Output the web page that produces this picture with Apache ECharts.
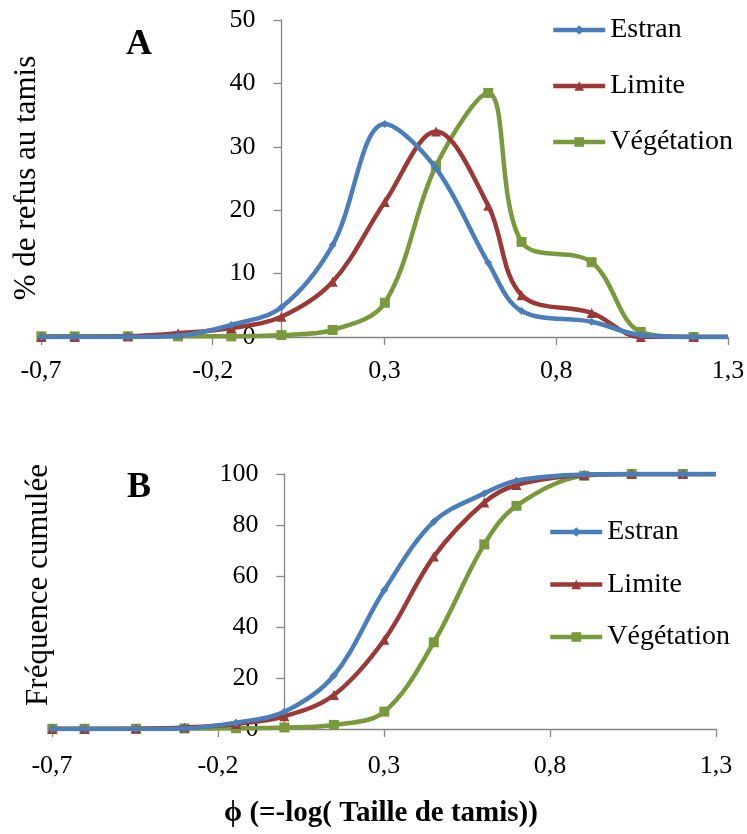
<!DOCTYPE html>
<html>
<head>
<meta charset="utf-8">
<script src="https://cdn.jsdelivr.net/npm/echarts@6/dist/echarts.min.js"></script>
<style>
html,body{margin:0;padding:0;background:#fff;}
#chart{width:747px;height:834px;}
</style>
</head>
<body>
<div id="chart"></div>
<script>
// phi = -log10(sieve size)
const phi = [-0.699, -0.602, -0.447, -0.301, -0.146, 0, 0.149, 0.301, 0.45, 0.602, 0.699, 0.903, 1.046, 1.2, 1.3];
const seriesNames = ['Estran', 'Limite', 'Végétation'];
// Panel A : % de refus au tamis
const refusEstran     = [0, 0, 0, 0.2, 1.9, 4.7, 14.5, 33.6, 26.6, 11.7, 4.1, 2.4, 0.3, 0, 0];
const refusLimite     = [0, 0, 0.1, 0.6, 1.4, 3.2, 8.7, 21.3, 32.4, 20.7, 6.6, 3.8, 0, 0, 0];
const refusVegetation = [0.1, 0.1, 0.1, 0.1, 0.1, 0.3, 1.1, 5.4, 27.0, 38.5, 15.0, 11.8, 0.8, 0, 0];
// Panel B : Fréquence cumulée
const cumEstran     = [0, 0, 0, 0.2, 2.5, 6.8, 21, 54.5, 81.3, 92.4, 97.4, 99.8, 100, 100, 100];
const cumLimite     = [0, 0, 0.1, 0.6, 2, 5, 13.3, 35, 67.6, 88.8, 95.7, 99.6, 100, 100, 100];
const cumVegetation = [0.1, 0.1, 0.1, 0.2, 0.3, 0.6, 1.6, 6.8, 34, 72.4, 87.5, 99.3, 100, 100, 100];

const colors = ['#4A7EBB', '#9B3936', '#789A3C'];
const symbols = ['diamond', 'triangle', 'rect'];
const symbolSizes = [8, 10, 10];
const FONT = '"Liberation Serif", "Times New Roman", serif';

function mkData(vals) {
  return phi.map((x, i) => i === phi.length - 1 ? { value: [x, vals[i]], symbol: 'none' } : [x, vals[i]]);
}
function mkSeries(vals, idx, gi) {
  return {
    name: seriesNames[idx], type: 'line', xAxisIndex: gi, yAxisIndex: gi,
    data: mkData(vals), smooth: 0.35, symbol: symbols[idx], symbolSize: symbolSizes[idx],
    showAllSymbol: true,
    lineStyle: { color: colors[idx], width: 4.5 },
    itemStyle: { color: colors[idx] },
    emphasis: { disabled: true }, animation: false, z: 5 - idx
  };
}
const fmt = v => (Math.round(v * 10) / 10).toFixed(1).replace('.', ',');
const axisGray = '#868686';
function xAx(gi, margin) {
  return {
    type: 'value', gridIndex: gi, min: -0.7, max: 1.3, interval: 0.5,
    axisLine: { show: true, onZero: false, lineStyle: { color: axisGray, width: 1.3 } },
    axisTick: { show: true, inside: false, length: 8, lineStyle: { color: axisGray, width: 1.3 } },
    axisLabel: { formatter: fmt, fontFamily: FONT, fontSize: 26, color: '#000', margin: margin, hideOverlap: false },
    splitLine: { show: false }
  };
}
function yAx(gi, max, interval, offset) {
  return {
    type: 'value', gridIndex: gi, min: 0, max: max, interval: interval, position: 'left', offset: offset,
    axisLine: { show: true, onZero: false, lineStyle: { color: axisGray, width: 1.3 } },
    axisTick: { show: true, inside: false, length: 8, lineStyle: { color: axisGray, width: 1.3 } },
    axisLabel: { fontFamily: FONT, fontSize: 26, color: '#000', margin: 26, hideOverlap: false },
    splitLine: { show: false }
  };
}
function legend(left, top, gap) {
  return {
    orient: 'vertical', left: left, top: top, padding: 0, itemWidth: 52, itemHeight: 12, itemGap: gap,
    data: seriesNames, selectedMode: false,
    lineStyle: { width: 4.5 },
    textStyle: { fontFamily: FONT, fontSize: 28, color: '#000', lineHeight: 28 }
  };
}

const chart = echarts.init(document.getElementById('chart'), null, { renderer: 'canvas' });
chart.setOption({
  backgroundColor: '#fff',
  animation: false,
  grid: [
    { left: 41, top: 20, width: 687, height: 317, containLabel: false, outerBoundsMode: 'none' },
    { left: 52, top: 474, width: 664, height: 255, containLabel: false, outerBoundsMode: 'none' }
  ],
  xAxis: [xAx(0, 21), xAx(1, 24)],
  yAxis: [yAx(0, 50, 10, -240.5), yAx(1, 100, 20, -232.4)],
  legend: [legend(551, 16, 28), legend(548, 518, 24.5)],
  series: [
    mkSeries(refusEstran, 0, 0), mkSeries(refusLimite, 1, 0), mkSeries(refusVegetation, 2, 0),
    mkSeries(cumEstran, 0, 1), mkSeries(cumLimite, 1, 1), mkSeries(cumVegetation, 2, 1)
  ],
  graphic: [
    { type: 'text', x: 139, y: 45, style: { text: 'A', font: 'bold 36px ' + FONT, fill: '#000', align: 'center', verticalAlign: 'middle' } },
    { type: 'text', x: 139, y: 488, style: { text: 'B', font: 'bold 36px ' + FONT, fill: '#000', align: 'center', verticalAlign: 'middle' } },
    { type: 'text', x: 27, y: 178, rotation: Math.PI / 2, style: { text: '% de refus au tamis', font: '31px ' + FONT, fill: '#000', align: 'center', verticalAlign: 'middle' } },
    { type: 'text', x: 39, y: 585, rotation: Math.PI / 2, style: { text: 'Fréquence cumulée', font: '31px ' + FONT, fill: '#000', align: 'center', verticalAlign: 'middle' } },
    { type: 'text', x: 381, y: 814, style: { text: 'ϕ (=-log( Taille de tamis))', font: 'bold 29px ' + FONT, fill: '#000', align: 'center', verticalAlign: 'middle' } }
  ]
});
</script>
</body>
</html>
